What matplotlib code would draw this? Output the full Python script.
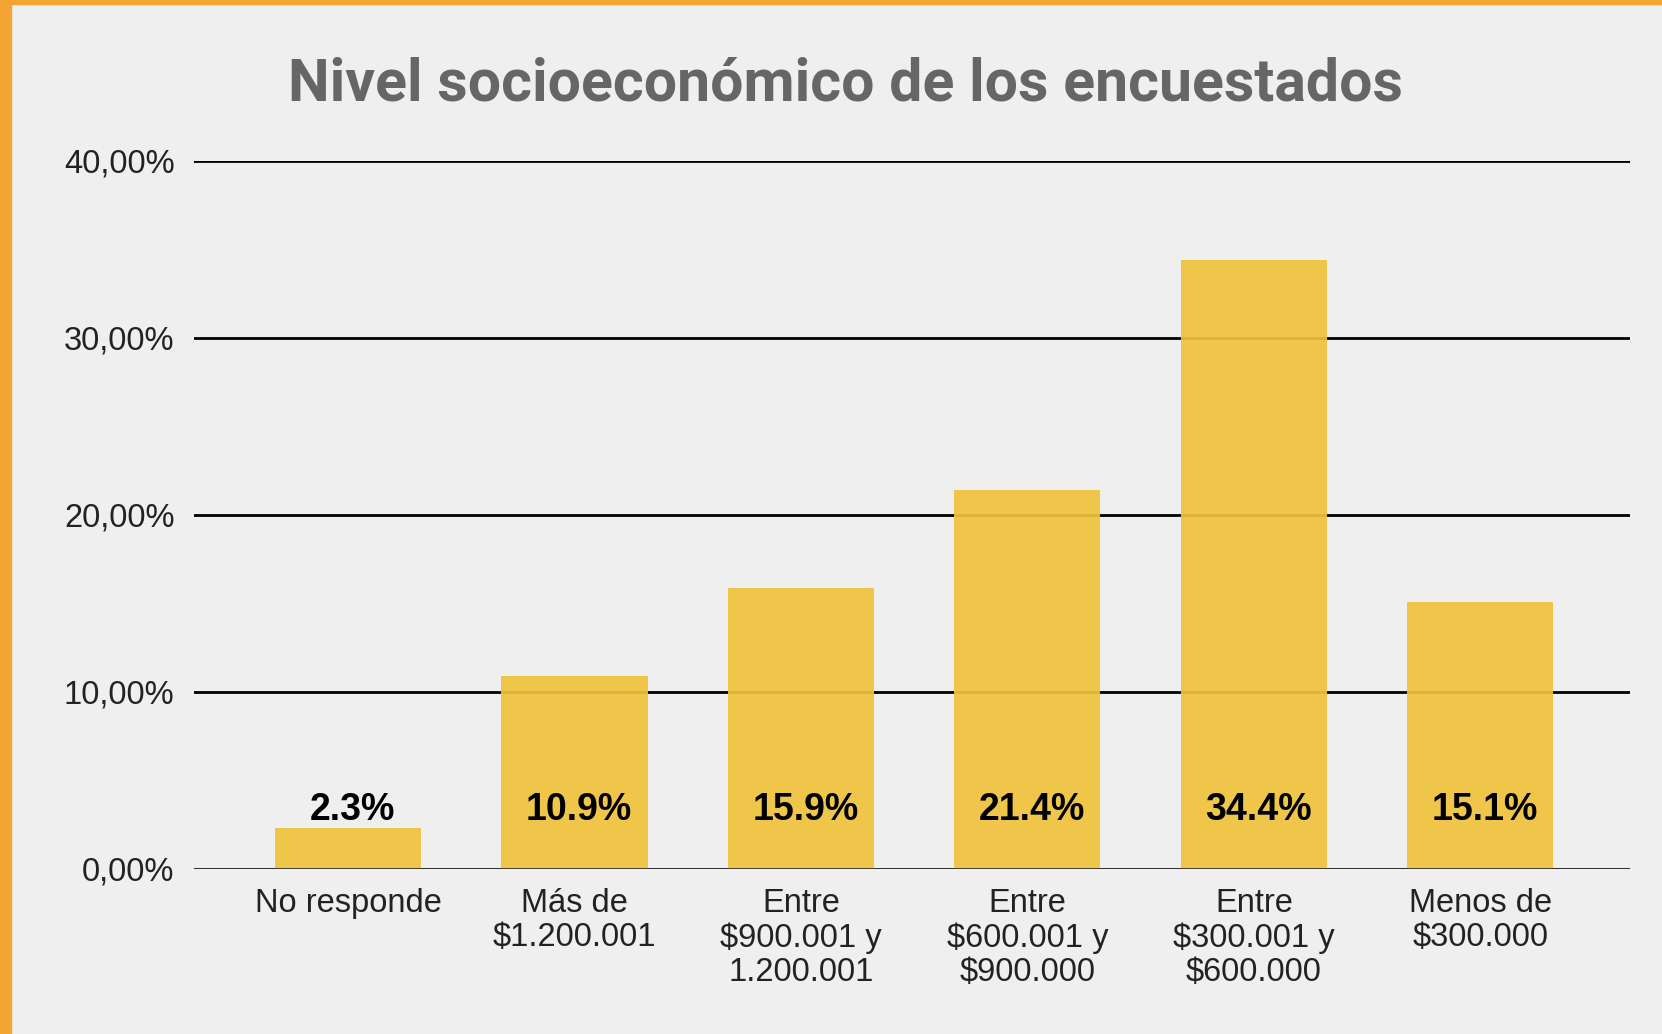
import matplotlib.pyplot as plt
from matplotlib.patches import Rectangle
from matplotlib.ticker import FuncFormatter

categories = ['No responde', 'Más de\n$1.200.001', 'Entre\n$900.001 y\n1.200.001',
              'Entre\n$600.001 y\n$900.000', 'Entre\n$300.001 y\n$600.000', 'Menos de\n$300.000']
values = [2.3, 10.9, 15.9, 21.4, 34.4, 15.1]
labels = ['2.3%', '10.9%', '15.9%', '21.4%', '34.4%', '15.1%']
yticks = [0, 10, 20, 30, 40]

bg = '#efefef'
fig = plt.figure(figsize=(16.62, 10.34), dpi=100, facecolor=bg)

# orange frame on the left and top edges
fig.patches.append(Rectangle((0, 0), 11 / 1662, 1, transform=fig.transFigure, color='#f2a533', zorder=0))
fig.patches.append(Rectangle((0, 1 - 4 / 1034), 1, 4 / 1034, transform=fig.transFigure, color='#f2a533', zorder=0))

ax = fig.add_axes([0.1167, 0.1596, 0.864, 0.6847])
ax.set_facecolor(bg)

x = list(range(len(categories)))
ax.bar(x, values, width=0.645, color='#f0c33c', alpha=0.92, zorder=2)

for xi, lab in zip(x, labels):
    ax.text(xi + 0.02, 3.35, lab, ha='center', va='center', fontsize=27,
            fontweight='bold', family='Liberation Sans', color='black', zorder=4)

ax.set_xlim(-0.68, 5.66)
ax.set_ylim(0, 40)
ax.set_yticks(yticks)
ax.yaxis.set_major_formatter(FuncFormatter(lambda v, p: f'{v:.2f}'.replace('.', ',') + '%'))
ax.grid(axis='y', color='black', linewidth=2, zorder=1)
ax.axhline(0, color='#333333', linewidth=2, zorder=3)

ax.set_xticks(x)
ax.set_xticklabels(categories, linespacing=1.12)
for lbl in ax.get_xticklabels() + ax.get_yticklabels():
    lbl.set_family('Liberation Sans')
    lbl.set_fontsize(23.5)
    lbl.set_color('#222222')
ax.tick_params(axis='y', length=0, pad=14)
ax.tick_params(axis='x', length=0, pad=14)

for s in ax.spines.values():
    s.set_visible(False)

fig.text(0.509, 0.918, 'Nivel socioeconómico de los encuestados', ha='center', va='center',
         fontsize=42.5, fontweight='bold', family='Roboto', color='#666666')

fig.savefig('out.png', dpi=100, facecolor=bg)
